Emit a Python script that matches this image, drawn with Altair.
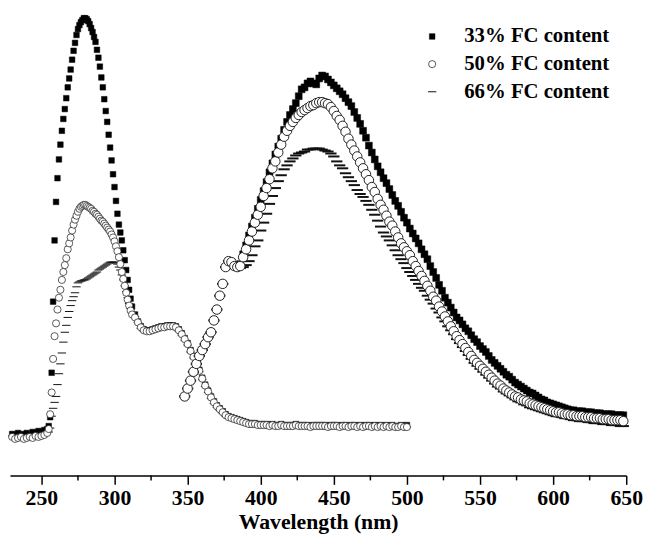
import altair as alt
import pandas as pd

SERIES = ["33% FC content", "50% FC content", "66% FC content"]

# ---------------- excitation spectra (nm grid) ----------------
ex_nm = list(range(230, 254, 2)) + list(range(254, 313)) + list(range(314, 501, 2))

ex_33 = [42, 41, 43, 40, 42, 43, 41, 44, 43, 45, 44, 46,
         47, 50, 59, 104, 176, 238, 277, 301, 320, 335, 349, 361, 371, 382, 393, 402, 411, 421, 430, 438,
         446, 452, 456, 459, 461, 463, 463, 462, 460, 457, 453, 449, 444, 439, 431, 423, 414, 403, 393,
         381, 369, 358, 345, 332, 319, 305, 292, 278, 265, 254, 246, 238, 228, 218, 208, 198, 188, 179, 171,
         163, 156, 151, 148, 147, 147, 148, 149, 150, 151, 151, 152, 152, 152, 151, 148, 144, 139, 134, 127,
         121, 115, 107, 99, 92, 86, 80, 75, 71, 68, 65, 62, 60, 59, 58, 57, 56, 55, 54, 53, 53, 53, 52, 52,
         52, 52, 51, 52, 51, 51, 52, 51, 51, 51, 51, 52, 51, 51, 51, 51, 50, 51, 51, 51,
         51, 51, 50, 51, 51, 51, 50, 51, 51, 50, 51, 51, 50, 51, 50, 51, 51, 50, 51, 50,
         51, 50, 51, 50, 51, 50, 50, 51, 50, 51]

ex_50 = [39, 37, 38, 39, 37, 38, 39, 38, 40, 39, 40, 41,
         43, 47, 62, 84, 118, 141, 154, 168, 180, 188, 198, 206, 213, 220, 229, 235, 241, 248, 254, 259,
         263, 267, 270, 272, 273, 274, 274, 273, 272, 271, 270, 268, 267, 265, 264, 262, 260, 258, 257,
         255, 253, 251, 249, 247, 244, 241, 237, 232, 227, 221, 214, 206, 199, 192, 185, 178, 172, 167, 163,
         160, 155, 150, 147, 146, 146, 147, 148, 149, 150, 150, 151, 151, 151, 150, 147, 143, 138, 133, 126,
         120, 114, 106, 98, 91, 85, 79, 74, 70, 67, 64, 61, 59, 58, 57, 56, 55, 54, 53, 52, 52, 52, 51, 51,
         51, 51, 50, 51, 50, 50, 51, 50, 50, 50, 50, 51, 50, 50, 50, 50, 49, 50, 50, 50,
         50, 50, 49, 50, 50, 50, 49, 50, 50, 49, 50, 50, 49, 50, 49, 50, 50, 49, 50, 49,
         50, 49, 50, 49, 50, 49, 49, 50, 49, 49]

ex_66 = [40, 42, 41, 40, 42, 41, 42, 43, 42, 43, 44, 44,
         45, 44, 48, 60, 68, 74, 80, 92, 103, 113, 124, 135, 145, 152, 160, 166, 172, 177, 181, 185,
         191, 195, 196, 197, 197, 198, 198, 199, 200, 201, 202, 203, 204, 205, 206, 208, 209, 210, 211,
         212, 213, 214, 215, 216, 216, 216, 216, 215, 214, 211, 208, 203, 198, 192, 186, 180, 174, 169, 165,
         161, 155, 149, 146, 145, 145, 146, 147, 148, 149, 149, 150, 150, 150, 149, 146, 142, 137, 132, 125,
         119, 113, 105, 97, 90, 84, 78, 73, 69, 66, 63, 60, 58, 57, 56, 55, 54, 53, 52, 51, 51, 51, 51, 50,
         50, 51, 50, 50, 50, 50, 51, 50, 50, 50, 50, 50, 50, 50, 51, 50, 50, 50, 49, 50,
         50, 50, 50, 49, 50, 50, 50, 50, 49, 50, 50, 49, 50, 50, 49, 50, 50, 49, 50, 50,
         49, 50, 49, 50, 50, 49, 50, 49, 50, 49]

# ---------------- emission spectra ----------------
em_nm = list(range(348, 649, 2))

em_33 = [80, 88, 96, 105, 113, 121, 127, 133, 140, 145,
         157, 168, 182, 194, 211, 217, 216, 212, 211, 214,
         224, 233, 243, 252, 261, 270, 279, 288, 297, 307,
         316, 325, 333, 341, 350, 358, 365, 371, 377, 384,
         391, 393, 397, 399, 397, 396, 402, 405, 404, 401,
         398, 395, 392, 389, 386, 382, 378, 374, 368, 362,
         356, 349, 342, 334, 327, 320, 313, 307, 301, 296,
         290, 284, 278, 273, 267, 261, 256, 250, 245, 240,
         235, 229, 224, 219, 212, 206, 200, 193, 187, 180,
         175, 170, 165, 160, 157, 153, 149, 146, 142, 138,
         135, 131, 128, 125, 121, 117, 114, 111, 108, 105,
         102, 100, 97, 94, 92, 90, 88, 86, 84, 83,
         81, 79, 77, 76, 74, 73, 72, 71, 70, 69,
         68, 67, 66, 66, 65, 65, 65, 64, 64, 64,
         63, 63, 63, 62, 62, 62, 62, 61, 61, 61, 61]

em_50 = [80, 88, 96, 105, 113, 121, 127, 133, 140, 145,
         157, 168, 182, 194, 211, 217, 216, 212, 211,
         212, 221, 229, 238, 247, 256, 264, 272, 283, 291,
         300, 311, 318, 327, 335, 343, 349, 354, 358, 362,
         365, 368, 370, 372, 374, 375, 377, 378, 378, 377,
         376, 373, 369, 364, 360, 354, 348, 341, 335, 329,
         323, 317, 311, 305, 299, 292, 287, 280, 274, 269,
         263, 257, 253, 247, 241, 235, 231, 227, 223, 217,
         212, 207, 202, 197, 192, 187, 181, 177, 171, 166,
         161, 156, 151, 146, 141, 137, 133, 129, 125, 121,
         117, 114, 111, 108, 105, 102, 99, 96, 93, 91,
         88, 86, 84, 82, 80, 79, 77, 76, 75, 73,
         72, 71, 70, 69, 68, 67, 66, 65, 64, 64,
         63, 62, 62, 61, 61, 60, 60, 60, 59, 59,
         59, 58, 58, 58, 57, 57, 57, 56, 56, 56,
         56, 55]

em_66 = [80, 88, 96, 105, 113, 121, 127, 133, 140, 145,
         157, 168, 182, 194, 211, 217, 216, 212, 210,
         210, 211, 213, 217, 223, 232, 238, 248, 256, 265,
         275, 283, 291, 298, 304, 310, 314, 318, 321, 324,
         326, 327, 328, 330, 330, 331, 331, 331, 330, 329,
         328, 326, 323, 318, 314, 311, 306, 302, 298, 294,
         289, 285, 282, 278, 274, 269, 264, 258, 252, 246,
         242, 238, 233, 228, 223, 219, 215, 210, 206, 202,
         198, 194, 190, 187, 182, 178, 174, 169, 165, 160,
         156, 151, 147, 143, 138, 134, 130, 126, 122, 118,
         114, 111, 108, 105, 102, 99, 96, 93, 90, 88,
         85, 83, 81, 79, 77, 75, 74, 72, 71, 69,
         68, 67, 66, 65, 64, 63, 62, 61, 60, 60,
         59, 58, 58, 57, 56, 56, 55, 55, 55, 54,
         54, 53, 53, 53, 52, 52, 52, 51, 51, 51,
         50, 50]

x_ticks = [250, 300, 350, 400, 450, 500, 550, 600, 650]
x_minor = [275, 325, 375, 425, 475, 525, 575, 625]

FONT = "Liberation Serif"

# excitation table: draw order 33%, 66%, then 50% (white circles) on top
ex_rows = []
for draw, (name, vals) in enumerate([(SERIES[0], ex_33), (SERIES[2], ex_66), (SERIES[1], ex_50)]):
    for n, v in zip(ex_nm, vals):
        ex_rows.append({"nm": n, "I": v, "series": name, "draw": draw})
ex_df = pd.DataFrame(ex_rows)

em33_df = pd.DataFrame({"nm": em_nm, "I": em_33})
em50_df = pd.DataFrame({"nm": em_nm, "I": em_50})
em66_df = pd.DataFrame({"nm": em_nm, "I": em_66})

leg = alt.Legend(title=None, orient="none", legendX=417, legendY=15,
                 labelFont=FONT, labelFontSize=21, labelFontWeight="bold",
                 labelColor="black", labelOffset=22, rowPadding=6, padding=0)

xscale = alt.Scale(domain=[228.5, 650], nice=False, zero=False)
yscale = alt.Scale(domain=[0, 470], nice=False)

x_enc = alt.X("nm:Q", scale=xscale,
              axis=alt.Axis(values=x_ticks, title="Wavelength (nm)", grid=False,
                            titleFont=FONT, titleFontSize=22, titleFontWeight="bold",
                            titleColor="black", titlePadding=4,
                            labelFont=FONT, labelFontSize=22, labelFontWeight="bold",
                            labelColor="black", labelPadding=3, labelFlush=False,
                            labelOverlap=False, tickSize=9, tickColor="black",
                            tickWidth=1.5, domainColor="black", domainWidth=1.5))
y_enc = alt.Y("I:Q", scale=yscale, axis=None)

excitation = alt.Chart(ex_df).mark_point(filled=True, opacity=1).encode(
    x=x_enc,
    y=y_enc,
    shape=alt.Shape("series:N", scale=alt.Scale(domain=SERIES, range=["square", "circle", "stroke"]), legend=leg),
    fill=alt.Fill("series:N", scale=alt.Scale(domain=SERIES, range=["black", "white", "black"]), legend=leg),
    stroke=alt.Stroke("series:N", scale=alt.Scale(domain=SERIES, range=["black", "#222222", "#111111"]), legend=leg),
    size=alt.Size("series:N", scale=alt.Scale(domain=SERIES, range=[32, 72, 100]), legend=leg),
    strokeWidth=alt.StrokeWidth("series:N", scale=alt.Scale(domain=SERIES, range=[0.5, 1, 1.8]), legend=leg),
    order=alt.Order("draw:Q"),
)

xe = alt.X("nm:Q", scale=xscale)
em33 = alt.Chart(em33_df).mark_point(shape="square", filled=True, fill="black", stroke="black",
                                     strokeWidth=0.5, size=48, opacity=1).encode(x=xe, y=y_enc)
em66 = alt.Chart(em66_df).mark_point(shape="stroke", stroke="#111111", strokeWidth=2,
                                     size=130, opacity=1).encode(x=xe, y=y_enc)
em50 = alt.Chart(em50_df).mark_point(shape="circle", filled=True, fill="white", stroke="#222222",
                                     strokeWidth=1, size=92, opacity=1).encode(x=xe, y=y_enc)

minor = alt.Chart(pd.DataFrame({"t": x_minor})).mark_rule(color="black", strokeWidth=1.5).encode(
    x=alt.X("t:Q", scale=xscale),
    y=alt.value(470),
    y2=alt.value(475),
)

chart = alt.layer(excitation, em33, em66, em50, minor).properties(
    width=624, height=470,
    autosize=alt.AutoSizeParams(type="none"),
    padding={"left": 2, "top": 0, "right": 18, "bottom": 60},
    background="white",
).configure_view(stroke=None)

chart.save("out.html", embed_options={"renderer": "svg", "actions": False})
